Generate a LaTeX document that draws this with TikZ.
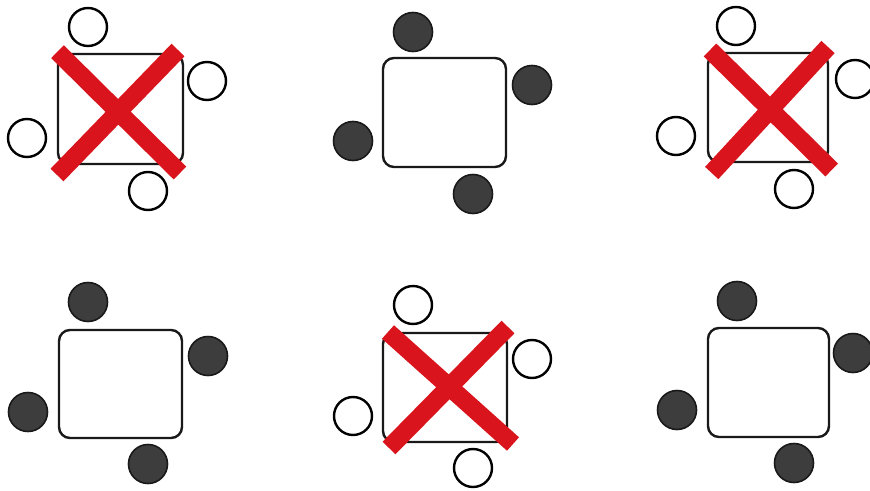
\documentclass[tikz,border=0pt]{standalone}
\begin{document}
\begin{tikzpicture}[x=1pt,y=-1pt,
  tablebox/.style={draw=black!90,line width=2.4pt,rounded corners=11pt,inner sep=0pt,fill=white},
  seatempty/.style={circle,draw=black,line width=2.4pt,minimum size=38pt,inner sep=0pt,fill=white},
  seatfull/.style={circle,draw=black!90,line width=1.6pt,minimum size=39pt,inner sep=0pt,fill=black!76},
  crossbar/.style={draw=xred,line width=18pt}]
\definecolor{xred}{RGB}{218,20,28}
\useasboundingbox (0,0) rectangle (870,490);
\fill[white] (0,0) rectangle (870,490);
% group 1
\node[tablebox,minimum width=125pt,minimum height=110pt] (t1) at (120.5,109) {};
\node[seatempty] (a1) at (88,27) {};
\node[seatempty] (b1) at (207,81) {};
\node[seatempty] (c1) at (27,138) {};
\node[seatempty] (d1) at (148,191) {};
\draw[crossbar] (57.5,51.7) -- (180,173);
\draw[crossbar] (178,50) -- (57,175);
% group 2
\node[tablebox,minimum width=123pt,minimum height=109pt] (t2) at (444.5,112.5) {};
\node[seatfull] (a2) at (413,32) {};
\node[seatfull] (b2) at (532,85) {};
\node[seatfull] (c2) at (353,141) {};
\node[seatfull] (d2) at (473,194) {};
% group 3
\node[tablebox,minimum width=120pt,minimum height=109pt] (t3) at (768,107.5) {};
\node[seatempty] (a3) at (736,26) {};
\node[seatempty] (b3) at (855,79) {};
\node[seatempty] (c3) at (676,136) {};
\node[seatempty] (d3) at (794,189) {};
\draw[crossbar] (710,50) -- (831.7,170);
\draw[crossbar] (828,47) -- (711.7,173);
% group 4
\node[tablebox,minimum width=123pt,minimum height=108pt] (t4) at (120.5,384) {};
\node[seatfull] (a4) at (88,302) {};
\node[seatfull] (b4) at (208,356) {};
\node[seatfull] (c4) at (28,412) {};
\node[seatfull] (d4) at (148,464) {};
% group 5
\node[tablebox,minimum width=124pt,minimum height=109pt] (t5) at (445,387.5) {};
\node[seatempty] (a5) at (413,305) {};
\node[seatempty] (b5) at (532,359) {};
\node[seatempty] (c5) at (353,416) {};
\node[seatempty] (d5) at (473,468) {};
\draw[crossbar] (388,332) -- (513,444);
\draw[crossbar] (508,327) -- (389,448);
% group 6
\node[tablebox,minimum width=121pt,minimum height=109pt] (t6) at (768.5,382.5) {};
\node[seatfull] (a6) at (737,301) {};
\node[seatfull] (b6) at (853,353) {};
\node[seatfull] (c6) at (677,410) {};
\node[seatfull] (d6) at (794,463) {};
\end{tikzpicture}
\end{document}
